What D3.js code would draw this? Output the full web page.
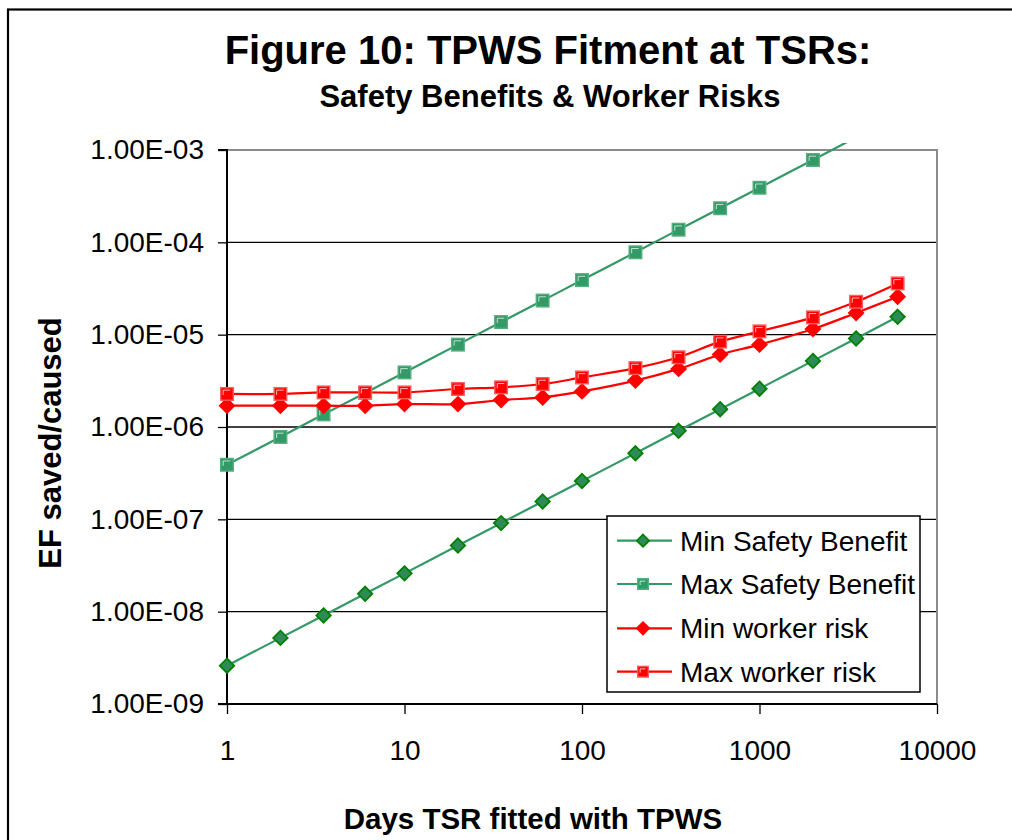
<!DOCTYPE html>
<html>
<head>
<meta charset="utf-8">
<script src="https://cdn.jsdelivr.net/npm/d3@7"></script>
<style>
  html, body { margin: 0; padding: 0; background: #fff; }
  svg { display: block; font-family: "Liberation Sans", Arial, sans-serif; }
</style>
</head>
<body>
<svg id="chart" width="1012" height="840"></svg>
<script>
// ---- Data ----
const days = [1, 2, 3.5, 6, 10, 20, 35, 60, 100, 200, 350, 600, 1000, 2000, 3500, 6000];
const minSafetyBenefit = [2.6e-9, 5.2e-9, 9.1e-9, 1.56e-8, 2.6e-8, 5.2e-8, 9.1e-8, 1.56e-7, 2.6e-7, 5.2e-7, 9.1e-7, 1.56e-6, 2.6e-6, 5.2e-6, 9.1e-6, 1.56e-5];
const maxSafetyBenefit = [3.9e-7, 7.8e-7, 1.37e-6, 2.34e-6, 3.9e-6, 7.8e-6, 1.37e-5, 2.34e-5, 3.9e-5, 7.8e-5, 1.37e-4, 2.34e-4, 3.9e-4, 7.8e-4, 1.37e-3, 2.34e-3];
const minWorkerRisk = [1.70e-6, 1.70e-6, 1.70e-6, 1.70e-6, 1.77e-6, 1.77e-6, 1.96e-6, 2.09e-6, 2.43e-6, 3.18e-6, 4.26e-6, 6.08e-6, 7.8e-6, 1.15e-5, 1.72e-5, 2.58e-5];
const maxWorkerRisk = [2.28e-6, 2.28e-6, 2.37e-6, 2.37e-6, 2.37e-6, 2.58e-6, 2.69e-6, 2.92e-6, 3.44e-6, 4.34e-6, 5.69e-6, 8.4e-6, 1.086e-5, 1.54e-5, 2.27e-5, 3.59e-5];
const seriesNames = ["Min Safety Benefit", "Max Safety Benefit", "Min worker risk", "Max worker risk"];
const xTickValues = [1, 10, 100, 1000, 10000];
const xTickLabels = ["1", "10", "100", "1000", "10000"];
const yTickValues = [1e-9, 1e-8, 1e-7, 1e-6, 1e-5, 1e-4, 1e-3];
const yTickLabels = ["1.00E-09", "1.00E-08", "1.00E-07", "1.00E-06", "1.00E-05", "1.00E-04", "1.00E-03"];
const titleText = "Figure 10: TPWS Fitment at TSRs:";
const subtitleText = "Safety Benefits & Worker Risks";
const xTitle = "Days TSR fitted with TPWS";
const yTitle = "EF saved/caused";

// ---- Layout ----
const svg = d3.select("#chart");
const plot = { left: 227, right: 937, top: 150, bottom: 704 };

const x = d3.scaleLog().domain([1, 10000]).range([plot.left, plot.right]);
const y = d3.scaleLog().domain([1e-9, 1e-3]).range([plot.bottom, plot.top]);

// outer chart border (extends beyond the frame on right/bottom)
svg.append("rect")
  .attr("x", 8).attr("y", 9.5).attr("width", 1100).attr("height", 900)
  .attr("fill", "none").attr("stroke", "#000").attr("stroke-width", 2.2);

// titles
svg.append("text").attr("x", 548).attr("y", 64)
  .attr("text-anchor", "middle").attr("font-weight", "bold").attr("font-size", 40)
  .text(titleText);
svg.append("text").attr("x", 550).attr("y", 107)
  .attr("text-anchor", "middle").attr("font-weight", "bold").attr("font-size", 31)
  .text(subtitleText);

// horizontal gridlines
svg.append("g").selectAll("line").data(yTickValues.slice(1, -1)).join("line")
  .attr("x1", plot.left).attr("x2", plot.right)
  .attr("y1", d => y(d)).attr("y2", d => y(d))
  .attr("stroke", "#000").attr("stroke-width", 1.3);

// plot border top/right (gray)
svg.append("path")
  .attr("d", `M${plot.left},${plot.top}H${plot.right}V${plot.bottom}`)
  .attr("fill", "none").attr("stroke", "#8c8c8c").attr("stroke-width", 2);

// axes
const yAxis = d3.axisLeft(y).tickValues(yTickValues)
  .tickFormat((d, i) => yTickLabels[i]).tickSize(9).tickPadding(14);
const gy = svg.append("g").attr("transform", `translate(${plot.left},0)`).call(yAxis);
gy.select(".domain").attr("stroke", "#000").attr("stroke-width", 2).attr("d", `M-9,${plot.top}H0V${plot.bottom}H-9`);
gy.selectAll(".tick line").attr("stroke", "#000").attr("stroke-width", 1.3);
gy.selectAll(".tick text").attr("font-size", 28).attr("fill", "#000")
  .attr("font-family", "'Liberation Sans', Arial, sans-serif");

const xAxis = d3.axisBottom(x).tickValues(xTickValues)
  .tickFormat((d, i) => xTickLabels[i]).tickSize(10).tickPadding(26);
const gx = svg.append("g").attr("transform", `translate(0,${plot.bottom})`).call(xAxis);
gx.select(".domain").attr("stroke", "#000").attr("stroke-width", 2).attr("d", `M${plot.left},0H${plot.right}`);
gx.selectAll(".tick line").attr("stroke", "#000").attr("stroke-width", 1.3);
gx.selectAll(".tick text").attr("font-size", 28).attr("fill", "#000")
  .attr("font-family", "'Liberation Sans', Arial, sans-serif");

// axis titles
svg.append("text").attr("x", 533).attr("y", 829)
  .attr("text-anchor", "middle").attr("font-weight", "bold").attr("font-size", 29.5)
  .text(xTitle);
svg.append("text")
  .attr("transform", `translate(61,${443}) rotate(-90)`)
  .attr("text-anchor", "middle").attr("font-weight", "bold").attr("font-size", 31)
  .text(yTitle);

// clip paths
const defs = svg.append("defs");
defs.append("clipPath").attr("id", "clipLine").append("rect")
  .attr("x", plot.left - 10).attr("y", plot.top - 7)
  .attr("width", plot.right - plot.left + 20).attr("height", plot.bottom - plot.top + 17);
defs.append("clipPath").attr("id", "clipMark").append("rect")
  .attr("x", plot.left - 10).attr("y", plot.top - 1)
  .attr("width", plot.right - plot.left + 20).attr("height", plot.bottom - plot.top + 12);

const GREEN = "#339966", RED = "#ff0000";
const series = [
  { name: seriesNames[0], vals: minSafetyBenefit, color: GREEN, marker: "diamond", fill: "#2e8b57", stroke: "#008000" },
  { name: seriesNames[1], vals: maxSafetyBenefit, color: GREEN, marker: "square", fill: "#339966", stroke: "#55b07f" },
  { name: seriesNames[2], vals: minWorkerRisk, color: RED, marker: "diamond", fill: RED, stroke: RED },
  { name: seriesNames[3], vals: maxWorkerRisk, color: RED, marker: "square", fill: RED, stroke: "#ff5c5c" }
];

const line = d3.line().x(d => x(d[0])).y(d => y(d[1])).curve(d3.curveCatmullRom.alpha(0.5));

function drawMarker(g, type, cx, cy, fill, stroke, scale) {
  const s = scale || 1;
  if (type === "diamond") {
    const r = 7.2 * s;
    g.append("path")
      .attr("d", `M${cx},${cy - r}L${cx + r},${cy}L${cx},${cy + r}L${cx - r},${cy}Z`)
      .attr("fill", fill).attr("stroke", stroke).attr("stroke-width", 1.8);
  } else {
    const h = 6.3 * s;
    g.append("rect").attr("x", cx - h).attr("y", cy - h).attr("width", 2 * h).attr("height", 2 * h)
      .attr("fill", fill).attr("stroke", stroke).attr("stroke-width", 1.4);
    g.append("path")
      .attr("d", `M${cx - h + 2.5},${cy + 1}V${cy - h + 2.5}H${cx + h - 3}`)
      .attr("fill", "none").attr("stroke", "rgba(255,255,255,0.7)").attr("stroke-width", 1);
  }
}

const lineG = svg.append("g").attr("clip-path", "url(#clipLine)");
const markG = svg.append("g").attr("clip-path", "url(#clipMark)");
series.forEach(s => {
  const pts = days.map((d, i) => [d, s.vals[i]]);
  lineG.append("path").attr("d", line(pts))
    .attr("fill", "none").attr("stroke", s.color).attr("stroke-width", 2.2);
});
series.forEach(s => {
  days.forEach((d, i) => drawMarker(markG, s.marker, x(d), y(s.vals[i]), s.fill, s.stroke));
});

// legend
const leg = { x: 607, y: 516, w: 313, h: 176 };
const lg = svg.append("g");
lg.append("rect").attr("x", leg.x).attr("y", leg.y).attr("width", leg.w).attr("height", leg.h)
  .attr("fill", "#fff").attr("stroke", "#000").attr("stroke-width", 1.5);
const rowY = [540.7, 584, 628.3, 671.7];
series.forEach((s, i) => {
  const cy = rowY[i];
  lg.append("line").attr("x1", 617).attr("x2", 672).attr("y1", cy).attr("y2", cy)
    .attr("stroke", s.color).attr("stroke-width", 2.2);
  drawMarker(lg, s.marker, 643, cy, s.fill, s.stroke, 0.85);
  lg.append("text").attr("x", 680).attr("y", cy + 10).attr("font-size", 28).attr("fill", "#000")
    .text(s.name);
});
</script>
</body>
</html>
